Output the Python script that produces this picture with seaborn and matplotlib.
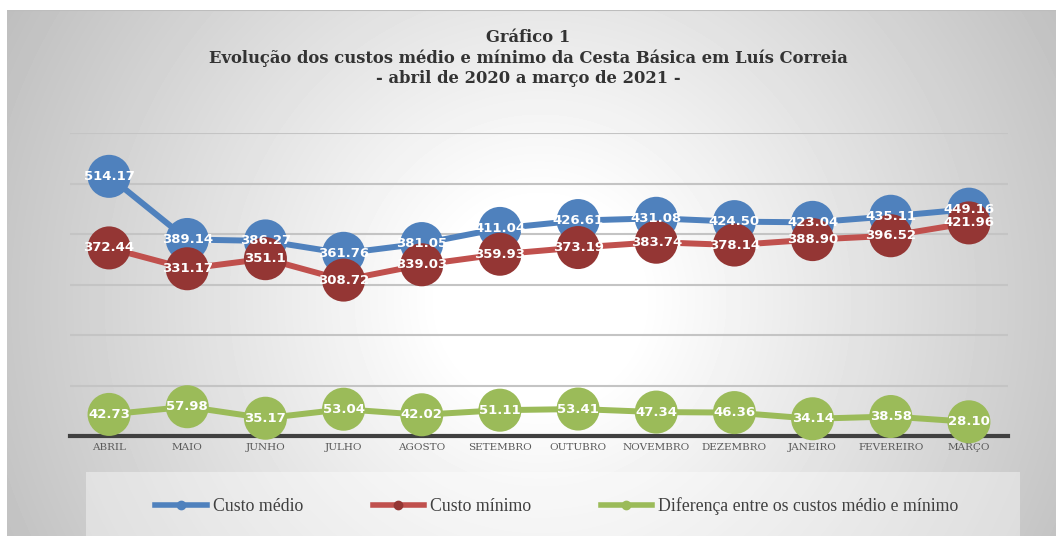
import numpy as np
import pandas as pd
import matplotlib.pyplot as plt
import seaborn as sns
from matplotlib.lines import Line2D
from matplotlib.patches import Rectangle

meses = ['ABRIL', 'MAIO', 'JUNHO', 'JULHO', 'AGOSTO', 'SETEMBRO', 'OUTUBRO',
         'NOVEMBRO', 'DEZEMBRO', 'JANEIRO', 'FEVEREIRO', 'MARÇO']
custo_medio = [514.17, 389.14, 386.27, 361.76, 381.05, 411.04, 426.61,
               431.08, 424.50, 423.04, 435.11, 449.16]
custo_minimo = [372.44, 331.17, 351.1, 308.72, 339.03, 359.93, 373.19,
                383.74, 378.14, 388.90, 396.52, 421.96]
diferenca = [42.73, 57.98, 35.17, 53.04, 42.02, 51.11, 53.41,
             47.34, 46.36, 34.14, 38.58, 28.10]
rotulos_medio = ['514.17', '389.14', '386.27', '361.76', '381.05', '411.04', '426.61',
                 '431.08', '424.50', '423.04', '435.11', '449.16']
rotulos_minimo = ['372.44', '331.17', '351.1', '308.72', '339.03', '359.93', '373.19',
                  '383.74', '378.14', '388.90', '396.52', '421.96']
rotulos_dif = ['42.73', '57.98', '35.17', '53.04', '42.02', '51.11', '53.41',
               '47.34', '46.36', '34.14', '38.58', '28.10']
series = ['Custo médio', 'Custo mínimo', 'Diferença entre os custos médio e mínimo']

cor_linha = {series[0]: '#4F81BD', series[1]: '#C0504D', series[2]: '#9BBB59'}
cor_marca = {series[0]: '#4F81BD', series[1]: '#943634', series[2]: '#9BBB59'}

df = pd.DataFrame({
    'mes': meses * 3,
    'valor': custo_medio + custo_minimo + diferenca,
    'serie': [series[0]] * 12 + [series[1]] * 12 + [series[2]] * 12,
    'rotulo': rotulos_medio + rotulos_minimo + rotulos_dif,
})

W, H = 1056, 536
fig = plt.figure(figsize=(W / 100, H / 100), dpi=100)
fig.patch.set_facecolor('white')

# fundo com degrade radial
bg = fig.add_axes([7 / W, 0, 1 - 7 / W, 526 / H])
bg.set_zorder(-1)
yy, xx = np.mgrid[0:526, 7:W]
d = np.sqrt((xx - 540) ** 2 + ((yy + 10) - 300) ** 2)
grad = np.clip(1.05 - 0.0005 * d, 0, 1)
bg.imshow(grad, cmap='gray', vmin=0, vmax=1, aspect='auto',
          extent=[0, 1, 0, 1], origin='upper')
bg.axhline(1, color='#bdbdbd', lw=1.5)
bg.axis('off')

# caixa da legenda
fig.patches.append(Rectangle((86 / W, 0), 934 / W, 64 / H, transform=fig.transFigure,
                             facecolor='white', alpha=0.4, edgecolor='none', zorder=1))

ax = fig.add_axes([70 / W, (H - 436) / H, 938 / W, 303 / H])
ax.set_facecolor('none')

sns.lineplot(data=df, x='mes', y='valor', hue='serie', palette=cor_linha,
             linewidth=4.3, sort=False, legend=False, ax=ax, zorder=2)
sns.scatterplot(data=df, x='mes', y='valor', hue='serie', palette=cor_marca,
                s=960, linewidth=0, legend=False, ax=ax, zorder=3, clip_on=False)

for i, r in df.iterrows():
    ax.text(meses.index(r['mes']), r['valor'], r['rotulo'], ha='center', va='center',
            color='white', fontsize=9.5, fontweight='bold', zorder=5,
            family='DejaVu Sans')

ax.set_xlim(-0.5, 11.5)
ax.set_ylim(0, 600)
ax.set_yticks([100, 200, 300, 400, 500, 600])
ax.yaxis.grid(True, color='#c4c4c4', lw=1.5)
ax.set_axisbelow(True)
ax.tick_params(axis='y', length=0, labelleft=False)
ax.tick_params(axis='x', length=0, pad=5, labelsize=7.5, labelcolor='#595959')
for lab in ax.get_xticklabels():
    lab.set_family('DejaVu Serif')
for s in ['top', 'right', 'left']:
    ax.spines[s].set_visible(False)
ax.spines['bottom'].set_color('#404040')
ax.spines['bottom'].set_linewidth(3)
ax.spines['bottom'].set_zorder(2.5)
ax.set_xlabel('')
ax.set_ylabel('')

fig.text(0.5, (H - 58) / H,
         'Gráfico 1\nEvolução dos custos médio e mínimo da Cesta Básica em Luís Correia\n- abril de 2020 a março de 2021 -',
         ha='center', va='center', fontsize=11.75, fontweight='bold', color='#333333',
         family='DejaVu Serif', linespacing=1.22)

handles = [Line2D([], [], color=cor_linha[s], lw=4, marker='o', markersize=6,
                  markerfacecolor=cor_marca[s], markeredgecolor=cor_marca[s]) for s in series]
fig.legend(handles, series, loc='center', bbox_to_anchor=(557 / W, 30 / H), ncol=3,
           frameon=False, handlelength=2.9, handletextpad=0.34, columnspacing=3.9,
           prop={'family': 'Liberation Serif', 'size': 12.8}, labelcolor='#404040')

fig.savefig('out.png', dpi=100)
